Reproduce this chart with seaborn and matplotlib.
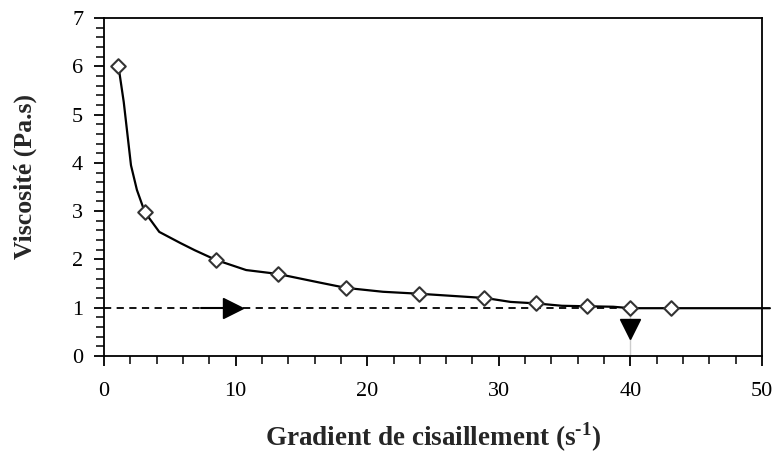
import matplotlib
matplotlib.use("Agg")
import matplotlib.pyplot as plt
import seaborn as sns
import pandas as pd
from matplotlib.ticker import MultipleLocator

# Measured points (markers)
shear_rate = [1.1, 3.1, 8.5, 13.2, 18.4, 23.9, 28.9, 32.8, 36.7, 40.0, 43.1]
viscosity = [6.0, 2.98, 1.99, 1.70, 1.41, 1.29, 1.20, 1.09, 1.03, 0.99, 0.99]

# Smoothed curve (as drawn)
curve_x = [1.1, 1.5, 2.05, 2.5, 3.1, 4.2, 5.8, 6.9, 8.5, 10.8, 13.2, 16.4, 18.4,
           21.2, 23.9, 29.0, 30.9, 32.8, 34.8, 36.7, 38.7, 40.0, 43.1, 50.6]
curve_y = [6.0, 5.26, 3.95, 3.44, 2.98, 2.57, 2.34, 2.19, 1.99, 1.78, 1.70, 1.52, 1.41,
           1.33, 1.29, 1.20, 1.12, 1.09, 1.04, 1.03, 1.02, 0.99, 0.99, 0.99]

# Reference lines / arrows
ref_visc = 1.0
ref_rate = 40.0
x_ticks = [0, 10, 20, 30, 40, 50]
y_ticks = [0, 1, 2, 3, 4, 5, 6, 7]

sns.set_style("ticks")
plt.rcParams["font.family"] = ["Liberation Serif", "DejaVu Serif"]
plt.rcParams["mathtext.fontset"] = "custom"
plt.rcParams["mathtext.rm"] = "Liberation Serif:bold"
plt.rcParams["mathtext.bf"] = "Liberation Serif:bold"

fig = plt.figure(figsize=(7.77, 4.53), dpi=100)
ax = fig.add_axes([104 / 777, 1 - 356 / 453, (762 - 104) / 777, (356 - 18) / 453])

# dashed reference lines
sns.lineplot(x=[0, ref_rate], y=[ref_visc, ref_visc], ax=ax, color="black",
             linestyle=(0, (4, 3)), linewidth=1.3, clip_on=False)
sns.lineplot(x=[ref_rate, ref_rate], y=[0, ref_visc], ax=ax, color="black",
             linestyle=(0, (4, 3)), linewidth=1.2, clip_on=False)

# curve
df_curve = pd.DataFrame({"x": curve_x, "y": curve_y})
sns.lineplot(data=df_curve, x="x", y="y", ax=ax, color="black", linewidth=1.6,
             sort=False, clip_on=False, zorder=3)

# markers
df_pts = pd.DataFrame({"x": shear_rate, "y": viscosity})
sns.scatterplot(data=df_pts, x="x", y="y", ax=ax, marker="D", s=55,
                facecolor="white", edgecolor="#333333", linewidth=1.5, zorder=4,
                clip_on=False)

# arrows
ax.plot([7.4, 9.3], [ref_visc, ref_visc], color="black", linewidth=1.5, zorder=5)
ax.plot([9.8], [ref_visc], marker=">", markersize=15, color="black", zorder=5)
ax.plot([ref_rate], [0.56], marker="v", markersize=15, color="black", zorder=5)

ax.set_xlim(0, 50)
ax.set_ylim(0, 7)
ax.set_xticks(x_ticks)
ax.set_yticks(y_ticks)
ax.xaxis.set_minor_locator(MultipleLocator(2))
ax.yaxis.set_minor_locator(MultipleLocator(0.2))
ax.tick_params(axis="both", which="major", labelsize=16, length=7, width=1.3,
               direction="out", color="black", labelcolor="black")
ax.tick_params(axis="x", which="major", pad=12)
ax.tick_params(axis="y", which="major", pad=8)
ax.tick_params(axis="both", which="minor", length=6, width=1.1, direction="out",
               color="black")
for s in ax.spines.values():
    s.set_visible(True)
    s.set_color("black")
    s.set_linewidth(1.3)

ax.set_xlabel(r"Gradient de cisaillement (s$^{\text{-}1}$)", fontsize=19.5,
              fontweight="bold", labelpad=14)
ax.set_ylabel("Viscosité (Pa.s)", fontsize=18.5, fontweight="bold")
ax.yaxis.set_label_coords(-0.102, 0.53)

fig.savefig("out.png", dpi=100)
